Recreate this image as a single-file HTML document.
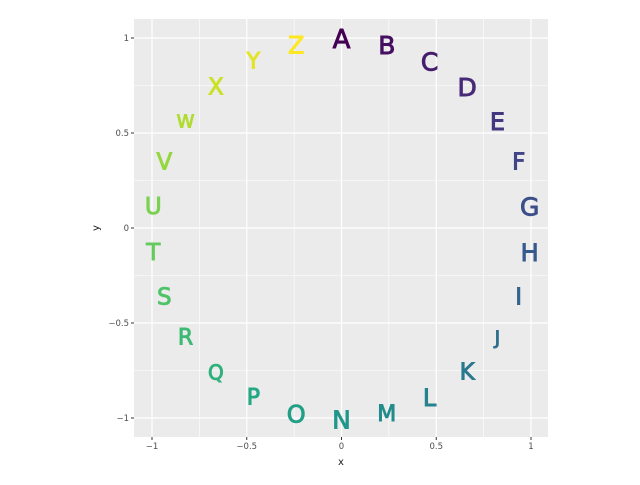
<!DOCTYPE html>
<html><head><meta charset="utf-8"><style>
body{margin:0;background:#fff;}
svg text{font-family:"DejaVu Sans","Liberation Sans",sans-serif;}
</style></head><body>
<svg id="chart" width="640" height="480">
<rect x="134" y="19" width="414" height="418" fill="#ebebeb"/>
<g id="grid"></g><g id="axes"></g><g id="marks"></g>
<text x="341" y="465" font-size="10" text-anchor="middle" fill="#222">x</text>
<text x="99" y="228" font-size="10" text-anchor="middle" fill="#222" transform="rotate(-90 99 228)">y</text>
</svg>
<script>
const letters=["A","B","C","D","E","F","G","H","I","J","K","L","M","N","O","P","Q","R","S","T","U","V","W","X","Y","Z"];
const xVals=[0,0.239,0.465,0.663,0.823,0.935,0.993,0.993,0.935,0.823,0.663,0.465,0.239,0,-0.239,-0.465,-0.663,-0.823,-0.935,-0.993,-0.993,-0.935,-0.823,-0.663,-0.465,-0.239];
const yVals=[1,0.971,0.885,0.749,0.568,0.355,0.121,-0.121,-0.355,-0.568,-0.749,-0.885,-0.971,-1,-0.971,-0.885,-0.749,-0.568,-0.355,-0.121,0.121,0.355,0.568,0.749,0.885,0.971];
const sizes=[26,25,25,25,24,23,25,24,23,19,23,24,22,25,24,22,20,22,23,23,23,23,18,23,22,24];
const ticks=[-1,-0.5,0,0.5,1];
const tickLabels=["\u22121","\u22120.5","0","0.5","1"];
const minor=[-0.75,-0.25,0.25,0.75];
const NS="http://www.w3.org/2000/svg";
const sx=v=>341.5+v*189.5, sy=v=>228-v*190;
const stops=["#440154","#482475","#414487","#355f8d","#2a788e","#21918c","#22a884","#44bf70","#7ad151","#bddf26","#fde725"];
function hex(h){return [1,3,5].map(i=>parseInt(h.substr(i,2),16));}
function viridis(t){const p=t*10,i=Math.min(9,Math.floor(p)),f=p-i;const a=hex(stops[i]),b=hex(stops[i+1]);return "rgb("+a.map((v,k)=>Math.round(v+(b[k]-v)*f)).join(",")+")";}
function mk(tag,attrs,parent){const e=document.createElementNS(NS,tag);for(const k in attrs)e.setAttribute(k,attrs[k]);parent.appendChild(e);return e;}
const grid=document.getElementById('grid'),axes=document.getElementById('axes'),marks=document.getElementById('marks');
minor.forEach(v=>{
 let l=mk('line',{x1:sx(v),x2:sx(v),y1:19,y2:437,stroke:'#fff','stroke-width':0.6},grid);
 
 
 l=mk('line',{x1:134,x2:548,y1:sy(v),y2:sy(v),stroke:'#fff','stroke-width':0.6},grid);
 
 
});
ticks.forEach((v,i)=>{
 let l=mk('line',{x1:sx(v),x2:sx(v),y1:19,y2:437,stroke:'#fff','stroke-width':1.2},grid);
 
 
 l=mk('line',{x1:134,x2:548,y1:sy(v),y2:sy(v),stroke:'#fff','stroke-width':1.2},grid);
 
 
 l=mk('line',{x1:sx(v),x2:sx(v),y1:437,y2:440,stroke:'#333'},axes);
 
 
 l=mk('line',{x1:131,x2:134,y1:sy(v),y2:sy(v),stroke:'#333'},axes);
 
 
 let t=mk('text',{x:sx(v),y:449,'font-size':8.5,'text-anchor':'middle',fill:'#4d4d4d'},axes);t.textContent=tickLabels[i];
 
 
 t=mk('text',{x:129,y:sy(v)+3,'font-size':8.5,'text-anchor':'end',fill:'#4d4d4d'},axes);t.textContent=tickLabels[i];
 
 
});
letters.forEach((c,i)=>{
 const col=viridis(i/(letters.length-1));
 const t=mk('text',{x:sx(xVals[i]),y:sy(yVals[i])+2,'font-size':sizes[i],'text-anchor':'middle','dominant-baseline':'central',fill:col,stroke:col,'stroke-width':0.9},marks);
 t.textContent=c;
 
 
});
</script>
</body></html>
